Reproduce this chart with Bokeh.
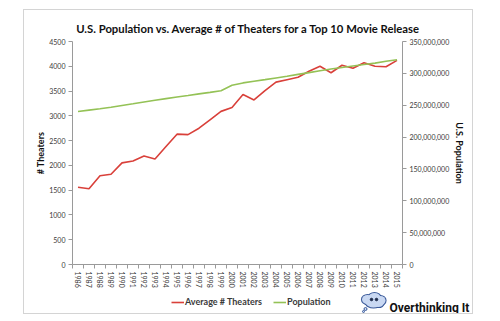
from bokeh.plotting import figure
from bokeh.layouts import column
from bokeh.models import (Range1d, LinearAxis, FixedTicker, NumeralTickFormatter,
                          Legend, LegendItem, Label, ColumnDataSource, Plot)
from bokeh.embed import file_html
from bokeh.resources import INLINE

# ---------------- data ----------------
years = list(range(1986, 2016))
theaters = [1560, 1530, 1790, 1820, 2050, 2090, 2190, 2130, 2380, 2630,
            2620, 2750, 2920, 3090, 3170, 3430, 3320, 3510, 3680, 3730,
            3780, 3900, 4000, 3870, 4020, 3960, 4070, 4000, 3990, 4120]
population = [240.1e6, 242.3e6, 244.5e6, 246.8e6, 249.6e6, 252.2e6, 255.0e6, 257.8e6, 260.3e6, 262.8e6,
              265.2e6, 267.8e6, 270.2e6, 272.7e6, 281.4e6, 285.0e6, 287.7e6, 290.1e6, 292.8e6, 295.5e6,
              298.4e6, 301.2e6, 304.1e6, 306.8e6, 309.3e6, 311.6e6, 313.9e6, 316.1e6, 318.9e6, 321.4e6]
left_ticks = list(range(0, 4501, 500))
right_ticks = [i * 50_000_000 for i in range(8)]
series_names = ["Average # Theaters", "Population"]
title_text = "U.S. Population vs. Average # of Theaters for a Top 10 Movie Release"
logo_text = "Overthinking It"

FONT = "Lato"
AX = "#9a9a9a"
TXT = "#3a3a3a"
RED = "#d9403a"
GREEN = "#94c256"
W = 448
HAS_FA = "frame_align" in Plot.properties()


def no_align(f):
    if HAS_FA:
        f.frame_align = False
    return f


def blank(h):
    f = figure(width=W, height=h, output_backend="svg", toolbar_location=None,
               x_range=Range1d(0, W), y_range=Range1d(0, h),
               x_axis_location=None, y_axis_location=None,
               min_border=0, min_border_left=0, min_border_right=0,
               min_border_top=0, min_border_bottom=0)
    f.outline_line_color = None
    f.grid.visible = False
    return no_align(f)


# ---------------- title strip ----------------
top = blank(25)
top.add_layout(Label(x=224, y=7, text=title_text, text_font=FONT, text_font_style="bold",
                     text_font_size="11.3px", text_color="#111111", text_align="center",
                     text_baseline="alphabetic"))

# ---------------- main chart ----------------
src = ColumnDataSource(dict(year=years, theaters=theaters, pop=population))

p = figure(width=W, height=255, output_backend="svg", toolbar_location=None,
           x_range=Range1d(1985.5, 2015.5), y_range=Range1d(0, 4500),
           min_border_left=48, min_border_right=70, min_border_top=6, min_border_bottom=22)
no_align(p)
p.extra_y_ranges = {"pop": Range1d(0, 350_000_000)}
p.outline_line_color = None
p.grid.visible = False

p.line("year", "theaters", source=src, line_color=RED, line_width=1.6)
p.line("year", "pop", source=src, y_range_name="pop", line_color=GREEN, line_width=1.6)

xa = p.xaxis[0]
xa.ticker = FixedTicker(ticks=years, minor_ticks=[y - 0.5 for y in years] + [2015.5])
xa.major_label_orientation = "vertical"
xa.major_tick_out = 0
xa.major_tick_in = 0
xa.minor_tick_out = 4
xa.minor_tick_in = 0
xa.minor_tick_line_color = AX
xa.axis_line_color = AX
xa.major_label_text_font = FONT
xa.major_label_text_font_size = "7px"
xa.major_label_text_color = TXT
xa.major_label_standoff = 3

ya = p.yaxis[0]
ya.ticker = FixedTicker(ticks=left_ticks)
ya.axis_label = "# Theaters"
ya.axis_label_text_font = FONT
ya.axis_label_text_font_style = "bold"
ya.axis_label_text_font_size = "9px"
ya.axis_label_text_color = "#111111"
ya.axis_label_standoff = 0
ya.major_tick_out = 4
ya.major_tick_in = 0
ya.minor_tick_out = 0
ya.minor_tick_in = 0
ya.major_tick_line_color = AX
ya.axis_line_color = AX
ya.major_label_text_font = FONT
ya.major_label_text_font_size = "7px"
ya.major_label_text_color = TXT
ya.major_label_standoff = 3

ra = LinearAxis(y_range_name="pop", ticker=FixedTicker(ticks=right_ticks),
                formatter=NumeralTickFormatter(format="0,0"))
ra.axis_label = "U.S. Population"
ra.axis_label_text_font = FONT
ra.axis_label_text_font_style = "bold"
ra.axis_label_text_font_size = "9px"
ra.axis_label_text_color = "#111111"
ra.axis_label_standoff = 2
ra.major_tick_out = 4
ra.major_tick_in = 0
ra.minor_tick_out = 0
ra.minor_tick_in = 0
ra.major_tick_line_color = AX
ra.axis_line_color = AX
ra.major_label_text_font = FONT
ra.major_label_text_font_size = "7px"
ra.major_label_text_color = TXT
ra.major_label_standoff = 3
p.add_layout(ra, "right")

# ---------------- legend + logo strip ----------------
bot = blank(23)
k1 = bot.line([-20, -10], [-20, -20], line_color=RED, line_width=1.6)
k2 = bot.line([-20, -10], [-20, -20], line_color=GREEN, line_width=1.6)
legend = Legend(items=[LegendItem(label=series_names[0], renderers=[k1]),
                       LegendItem(label=series_names[1], renderers=[k2])],
                orientation="horizontal", location=(147, 6), background_fill_alpha=0,
                border_line_color=None, label_text_font=FONT, label_text_font_style="bold",
                label_text_font_size="9px", label_text_color=TXT, glyph_width=13, glyph_height=8,
                label_standoff=1, spacing=11, padding=0, margin=0, label_height=10)
bot.add_layout(legend, "center")

# cloud mascot (decoration, drawn in strip pixels)
cx = [343, 350, 356, 349, 346, 354]
cy = [14, 16, 13, 10, 11, 10]
cw = [11, 12, 10, 14, 10, 10]
ch = [9, 9, 9, 8, 7, 7]
bot.ellipse(cx, cy, width=cw, height=ch, fill_color=None, line_color="#3b5a9a", line_width=2.2)
bot.ellipse(cx, cy, width=cw, height=ch, fill_color="#c9d8f2", line_color=None)
bot.scatter([347, 352], [14, 14], size=2.5, color="#1c2a4a")
bot.scatter([341, 339], [4.5, 2], size=[3, 2], fill_color="#c9d8f2", line_color="#3b5a9a")
bot.add_layout(Label(x=365, y=6, text=logo_text, text_font="Roboto",
                     text_font_style="bold", text_font_size="12px", text_color="#111111",
                     text_baseline="alphabetic"))

layout = column(top, p, bot, spacing=0)
layout.margin = (10, 0, 0, 24)
layout.styles = {"outline": "1px solid #d4d4d4"}

open("out.html", "w").write(file_html(layout, INLINE))
